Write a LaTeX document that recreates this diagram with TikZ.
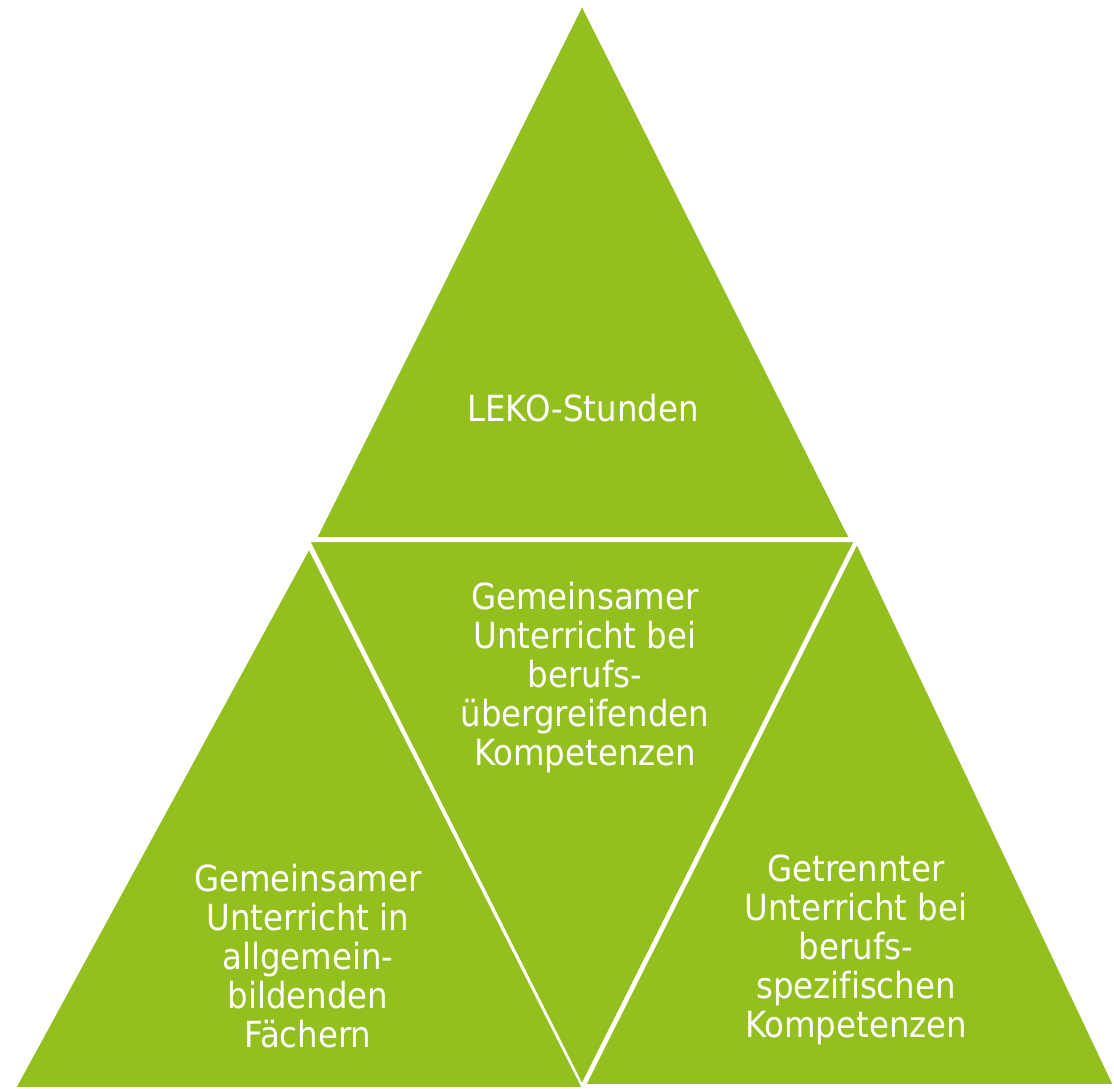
\documentclass[tikz,border=0pt]{standalone}
\usepackage{fontspec}
\setmainfont[Ligatures=NoCommon]{DejaVu Sans Condensed}
\definecolor{lekogreen}{RGB}{147,192,31}

\begin{document}
\begin{tikzpicture}[x=1pt,y=-1pt,
    tri/.style={fill=lekogreen,draw=white,line width=2pt,line join=miter},
    lbl/.style={text=white,align=center,font=\fontsize{36}{39}\selectfont}]
\useasboundingbox (0,0) rectangle (1114,1089);

% Dreiecke (oben, Mitte, links, rechts)
\foreach \ax/\ay/\bx/\by/\cx/\cy in {
    582/5/316/538/850/538,
    309/541/855/541/582/1085,
    309/548/15/1088/583/1088,
    857/543/585/1085/1114/1085} {
    \filldraw[tri] (\ax,\ay) -- (\bx,\by) -- (\cx,\cy) -- cycle;
}

% Beschriftungen
\node[lbl] (leko) at (583,408) {LEKO-Stunden};
\node[lbl] (mitte) at (585,678) {Gemeinsamer\\Unterricht bei\\berufs-\\übergreifenden\\Kompetenzen};
\node[lbl] (links) at (308,956) {Gemeinsamer\\Unterricht in\\allgemein-\\bildenden\\Fächern};
\node[lbl] (rechts) at (856,950) {Getrennter\\Unterricht bei\\berufs-\\spezifischen\\Kompetenzen};
\end{tikzpicture}
\end{document}
